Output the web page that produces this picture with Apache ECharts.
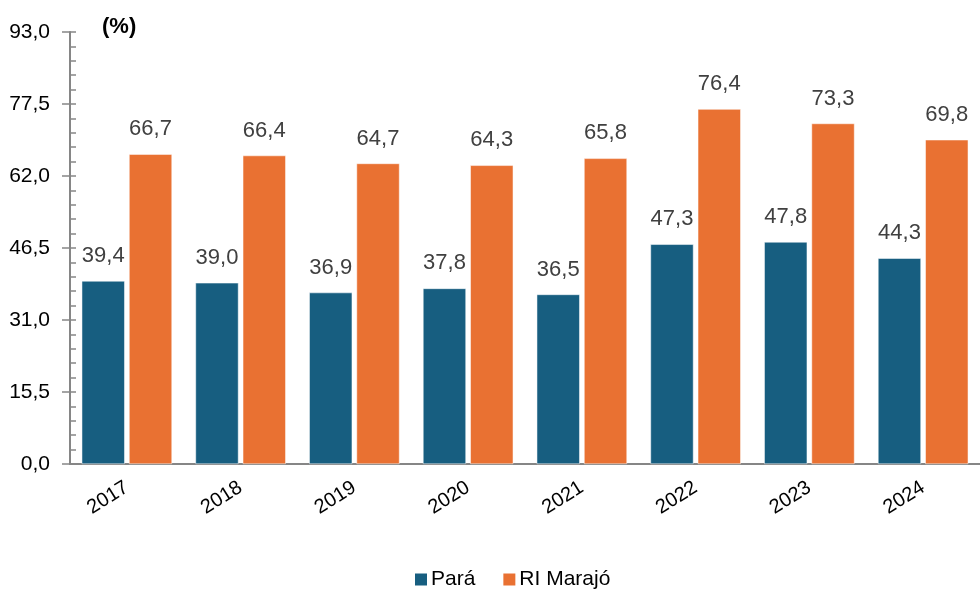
<!DOCTYPE html>
<html>
<head>
<meta charset="utf-8">
<script src="https://cdn.jsdelivr.net/npm/echarts@6/dist/echarts.min.js"></script>
<style>
    html, body { margin: 0; padding: 0; background: #fff; }
    #chart { width: 980px; height: 592px; }
</style>
</head>
<body>
<div id="chart"></div>
<script>
const years = ['2017', '2018', '2019', '2020', '2021', '2022', '2023', '2024']
const para = [39.4, 39.0, 36.9, 37.8, 36.5, 47.3, 47.8, 44.3]
const marajo = [66.7, 66.4, 64.7, 64.3, 65.8, 76.4, 73.3, 69.8]
const seriesNames = ['Pará', 'RI Marajó']

const FONT = "'Liberation Sans', Arial, sans-serif"
const fmt = v => v.toFixed(1).replace('.', ',')

const chart = echarts.init(document.getElementById('chart'), null, { renderer: 'canvas' })

const labelStyle = {
    show: true,
    position: 'top',
    distance: 14,
    color: '#404040',
    fontSize: 22,
    fontFamily: FONT,
    formatter: p => fmt(p.value)
}

chart.setOption({
    animation: false,
    title: {
        text: '(%)',
        left: 102,
        top: 16,
        padding: 0,
        textStyle: { fontSize: 22, fontWeight: 'bold', color: '#000', fontFamily: FONT }
    },
    legend: {
        data: seriesNames,
        top: 569,
        left: 413,
        padding: 0,
        icon: 'rect',
        itemWidth: 14,
        itemHeight: 14,
        itemGap: 26,
        textStyle: { fontSize: 21, color: '#000', fontFamily: FONT, padding: [0, 0, 0, -2] }
    },
    grid: { top: 32, left: 70, right: 0, bottom: 128, containLabel: false },
    xAxis: {
        type: 'category',
        data: years,
        axisLine: { lineStyle: { color: '#868686', width: 2 } },
        axisTick: { length: 6, lineStyle: { color: '#868686', width: 2 } },
        axisLabel: { rotate: 32, margin: 22, fontSize: 20, color: '#000', fontFamily: FONT }
    },
    yAxis: [
        {
            type: 'value',
            min: 0,
            max: 93,
            interval: 15.5,
            axisLine: { show: true, lineStyle: { color: '#868686', width: 2 } },
            axisTick: { show: true, length: 8, lineStyle: { color: '#868686', width: 1.5 } },
            splitLine: { show: false },
            axisLabel: { fontSize: 21, color: '#000', fontFamily: FONT, margin: 20, formatter: v => fmt(v) }
        },
        {
            type: 'value',
            position: 'left',
            min: 0,
            max: 93,
            interval: 15.5,
            axisLine: { show: false },
            axisTick: { show: true, inside: true, length: 6, lineStyle: { color: '#868686', width: 1.5 } },
            minorTick: { show: true, splitNumber: 5, length: 6, lineStyle: { color: '#868686', width: 1.5 } },
            splitLine: { show: false },
            axisLabel: { show: false }
        }
    ],
    series: [
        {
            name: seriesNames[0],
            type: 'bar',
            data: para,
            barWidth: 43,
            barGap: '10%',
            itemStyle: { color: '#175e80', borderColor: '#fff', borderWidth: 0.5 },
            label: labelStyle
        },
        {
            name: seriesNames[1],
            type: 'bar',
            data: marajo,
            barWidth: 43,
            barGap: '10%',
            itemStyle: { color: '#e97132', borderColor: '#fff', borderWidth: 0.5 },
            label: labelStyle
        }
    ]
})
</script>
</body>
</html>
